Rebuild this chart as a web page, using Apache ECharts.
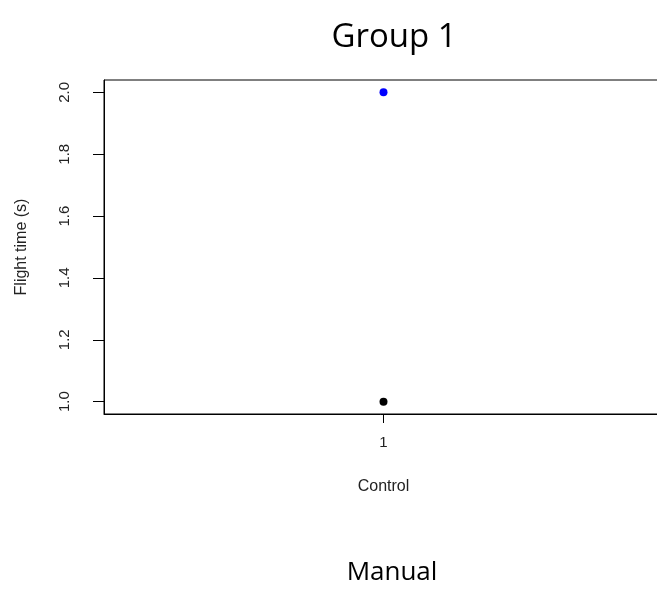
<!DOCTYPE html>
<html>
<head>
<meta charset="utf-8">
<script src="https://cdn.jsdelivr.net/npm/echarts@6/dist/echarts.min.js"></script>
<style>
  html, body { margin: 0; padding: 0; background: #ffffff; }
  #chart { width: 657px; height: 604px; }
</style>
</head>
<body>
<div id="chart"></div>
<script>
// Flight time readings for the single "Control" group
const groupPositions = [1];
const groupTickLabels = ['1'];
const blackFlightTimes = [1.0];
const blueFlightTimes = [2.0];
const yTickValues = [1.0, 1.2, 1.4, 1.6, 1.8, 2.0];

const chart = echarts.init(document.getElementById('chart'), null, { renderer: 'canvas' });

const axisFont = { fontFamily: 'Liberation Sans, Arial, sans-serif', fontSize: 15, color: '#222' };

chart.setOption({
  animation: false,
  backgroundColor: '#ffffff',
  grid: {
    left: 104, top: 80, width: 559, height: 334,
    outerBoundsMode: 'none',
    containLabel: false,
    show: true, borderColor: '#000', borderWidth: 1, backgroundColor: 'transparent'
  },
  xAxis: {
    type: 'value',
    min: 0.96, max: 1.04,
    name: 'Control',
    nameLocation: 'middle',
    nameGap: 65,
    nameTextStyle: Object.assign({}, axisFont, { fontSize: 16 }),
    axisLine: { show: true, onZero: false, lineStyle: { color: '#000', width: 1 } },
    axisTick: { show: true, length: 9, customValues: groupPositions, lineStyle: { color: '#000' } },
    axisLabel: Object.assign({}, axisFont, {
      margin: 21,
      customValues: groupPositions,
      formatter: v => groupTickLabels[groupPositions.indexOf(v)] || ''
    }),
    splitLine: { show: false }
  },
  yAxis: {
    type: 'value',
    min: 0.96, max: 2.04,
    name: 'Flight time (s)',
    nameLocation: 'middle',
    nameGap: 74,
    nameRotate: 90,
    nameTextStyle: Object.assign({}, axisFont, { fontSize: 16 }),
    axisLine: { show: true, onZero: false, lineStyle: { color: '#000', width: 1 } },
    axisTick: { show: true, length: 11, customValues: yTickValues, lineStyle: { color: '#000' } },
    axisLabel: Object.assign({}, axisFont, {
      rotate: 90,
      margin: 32,
      customValues: yTickValues,
      formatter: v => v.toFixed(1)
    }),
    splitLine: { show: false }
  },
  series: [
    {
      type: 'scatter',
      symbol: 'circle',
      symbolSize: 8,
      itemStyle: { color: '#000000', opacity: 1 },
      data: blackFlightTimes.map((v, i) => [groupPositions[i], v])
    },
    {
      type: 'scatter',
      symbol: 'circle',
      symbolSize: 8,
      itemStyle: { color: '#0000ff', opacity: 1 },
      data: blueFlightTimes.map((v, i) => [groupPositions[i], v])
    }
  ],
  graphic: [
    {
      type: 'text', x: 394, y: 38,
      style: {
        text: 'Group 1', textAlign: 'center', textVerticalAlign: 'middle',
        font: '33px "Open Sans", sans-serif', fill: '#000'
      }
    },
    {
      type: 'text', x: 392, y: 573,
      style: {
        text: 'Manual', textAlign: 'center', textVerticalAlign: 'middle',
        font: '26px "Open Sans", sans-serif', fill: '#000'
      }
    }
  ]
});
</script>
</body>
</html>
